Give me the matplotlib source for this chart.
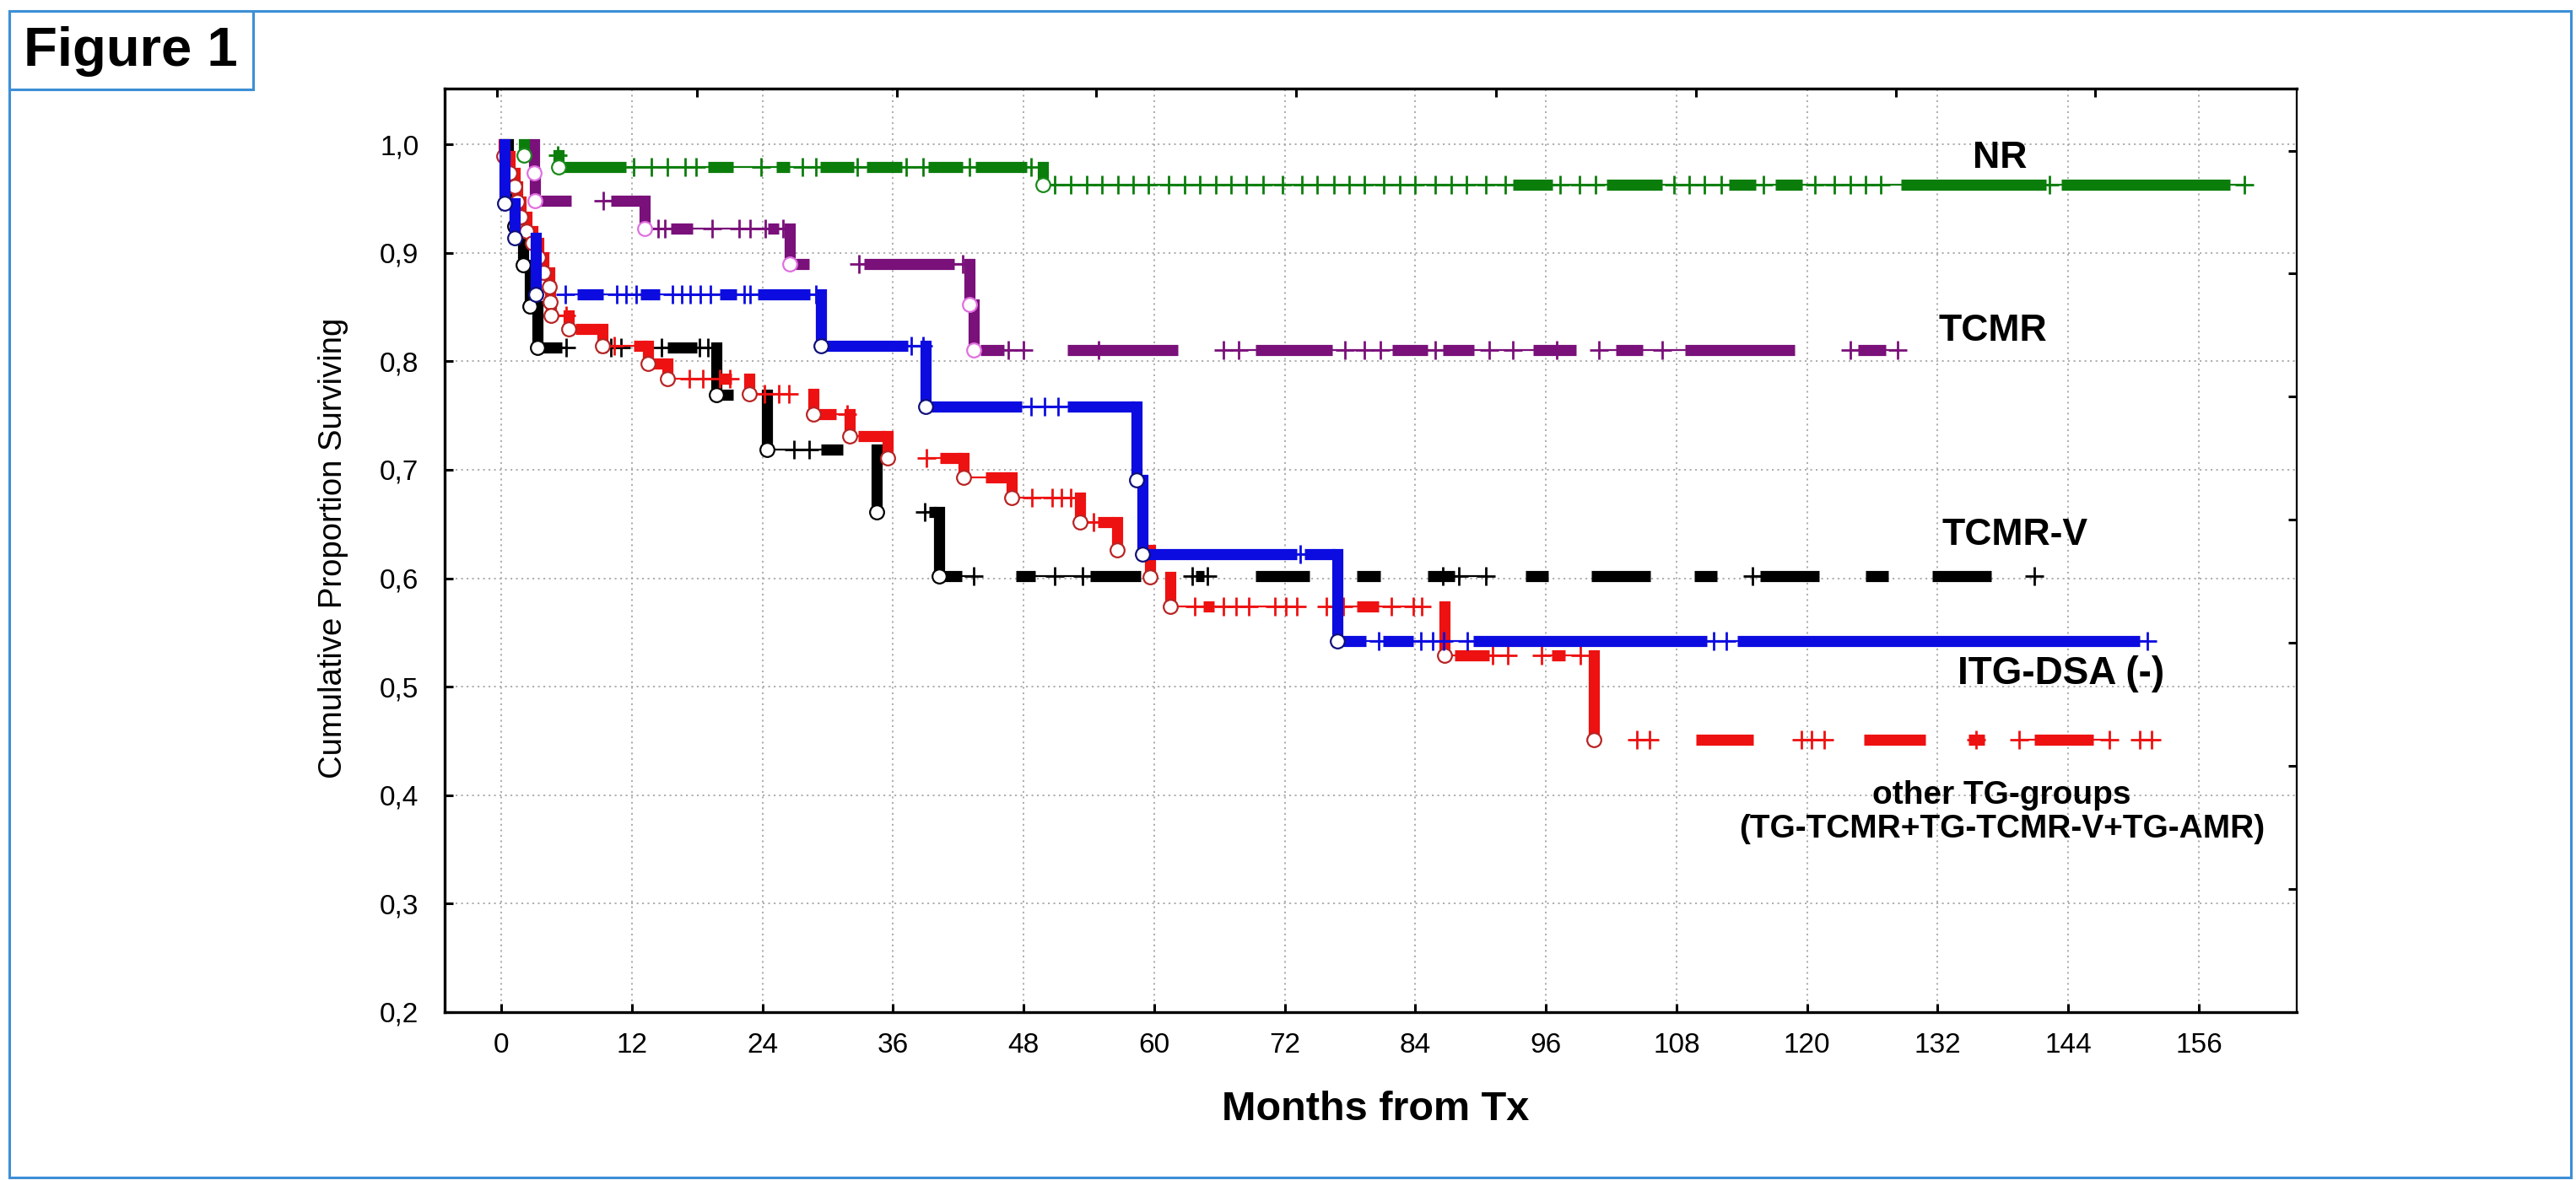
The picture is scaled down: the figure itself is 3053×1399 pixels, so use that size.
import numpy as np
import matplotlib
matplotlib.use("Agg")
import matplotlib.pyplot as plt
from matplotlib.patches import Rectangle

plt.rcParams['font.family'] = ['Liberation Sans', 'DejaVu Sans']

# ---------------------------------------------------------------------------
# DATA
# ---------------------------------------------------------------------------

x_ticks = [0, 12, 24, 36, 48, 60, 72, 84, 96, 108, 120, 132, 144, 156]
y_ticks = [0.2, 0.3, 0.4, 0.5, 0.6, 0.7, 0.8, 0.9, 1.0]
y_tick_labels = ['0,2', '0,3', '0,4', '0,5', '0,6', '0,7', '0,8', '0,9', '1,0']

# NR (green)
nr_event_t = [2.1, 5.3, 49.8]
nr_event_s = [0.990, 0.979, 0.963]
nr_censor_t = [5.2, 12.2, 13.8, 15.3, 16.9, 17.9, 23.9, 27.7, 28.9, 32.7, 37.2, 38.8,
               43.0, 48.7, 50.9, 52.3, 53.8, 55.2, 56.7, 58.1, 59.5, 61.3, 62.8, 64.2,
               65.7, 67.1, 68.5, 70.0, 71.8, 73.6, 75.0, 76.5, 77.9, 79.3, 81.1, 82.6,
               84.0, 85.8, 87.3, 88.7, 90.5, 92.3, 97.3, 99.1, 100.6, 107.8, 109.2,
               110.6, 112.1, 116.0, 120.7, 122.5, 124.0, 125.4, 126.8, 142.3, 160.2]
nr_blocks = [(5.4, 11.5), (19.0, 21.3), (25.3, 26.5), (29.3, 32.4), (33.6, 36.8),
             (39.2, 42.4), (43.6, 48.3), (93.0, 96.6), (101.6, 106.7), (112.8, 115.3),
             (117.1, 119.6), (128.6, 142.0), (143.4, 158.9)]

# TCMR (purple)
tcmr_event_t = [3.0, 3.1, 13.2, 26.5, 43.0, 43.4]
tcmr_event_s = [0.974, 0.948, 0.922, 0.890, 0.852, 0.810]
tcmr_censor_t = [9.4, 14.4, 15.0, 19.4, 21.9, 22.9, 24.3, 25.9, 32.9, 42.4, 46.6, 48.0,
                 54.9, 66.4, 67.8, 77.5, 79.3, 80.8, 85.8, 90.8, 93.0, 97.0, 100.9,
                 106.7, 124.0, 128.3]
tcmr_blocks = [(3.1, 6.4), (10.1, 12.8), (15.6, 17.6), (24.5, 25.5), (26.5, 28.3),
               (33.3, 41.6), (44.0, 46.2), (52.0, 62.2), (69.3, 76.4), (81.9, 85.1),
               (86.5, 89.4), (94.8, 98.8), (102.4, 104.9), (108.8, 118.9), (124.7, 127.2)]

# ITG-DSA (-) (blue)
itg_event_t = [0.3, 1.2, 3.2, 29.4, 39.0, 58.4, 58.9, 76.8]
itg_event_s = [0.946, 0.914, 0.862, 0.814, 0.758, 0.691, 0.622, 0.542]
itg_censor_t = [5.9, 10.6, 11.5, 12.4, 15.7, 16.6, 17.4, 18.3, 19.2, 22.3, 22.9, 28.9,
                37.7, 38.8, 48.7, 49.9, 51.2, 73.4, 80.6, 84.5, 85.6, 86.6, 88.8,
                111.4, 112.6, 151.3]
itg_blocks = [(7.0, 9.4), (12.8, 14.6), (20.1, 21.6), (23.6, 28.4), (29.4, 37.4),
              (39.5, 47.8), (52.0, 58.2), (58.9, 73.1), (73.8, 76.6), (77.0, 79.5),
              (81.0, 83.8), (89.3, 110.8), (113.6, 150.6)]

# TCMR-V (black)
tcmrv_event_t = [0.6, 1.2, 2.0, 2.6, 3.3, 19.8, 24.4, 34.5, 40.2]
tcmrv_event_s = [0.962, 0.925, 0.889, 0.851, 0.813, 0.769, 0.719, 0.661, 0.602]
tcmrv_censor_t = [6.0, 10.1, 11.0, 14.7, 18.2, 19.0, 26.9, 28.3, 38.9, 43.4, 50.9, 53.4,
                  63.5, 64.9, 86.5, 88.0, 90.5, 115.0, 140.9]
tcmrv_blocks = [(3.5, 5.6), (8.9, 9.7), (15.3, 18.0), (19.8, 21.3), (29.4, 31.4),
                (39.3, 40.0), (40.5, 42.3), (47.3, 49.1), (54.1, 58.8), (63.8, 64.6),
                (69.3, 74.3), (78.6, 80.8), (85.1, 87.6), (94.1, 96.2), (100.2, 105.6),
                (109.6, 111.7), (115.7, 121.1), (125.4, 127.5), (131.5, 136.9)]

# other TG-groups (red)
tg_event_t = [0.2, 0.8, 1.2, 1.5, 1.8, 2.3, 2.9, 3.4, 3.9, 4.4, 4.5, 4.6, 6.2, 9.3,
              13.5, 15.3, 22.8, 28.7, 32.0, 35.5, 42.5, 46.9, 53.2, 56.6, 59.6, 61.5,
              86.7, 100.4]
tg_event_s = [0.989, 0.974, 0.961, 0.947, 0.933, 0.920, 0.909, 0.896, 0.882, 0.869,
              0.855, 0.842, 0.830, 0.814, 0.798, 0.784, 0.770, 0.751, 0.731, 0.711,
              0.693, 0.674, 0.652, 0.626, 0.601, 0.574, 0.529, 0.451]
tg_censor_t = [6.0, 10.4, 17.3, 18.5, 20.1, 21.0, 24.2, 25.5, 26.4, 31.8, 39.1, 48.8,
               50.6, 51.5, 52.3, 54.4, 63.7, 66.4, 67.5, 68.7, 71.1, 72.1, 73.1, 75.8,
               76.7, 77.4, 81.8, 83.8, 84.6, 91.1, 92.5, 95.6, 99.2, 104.4, 105.5,
               119.5, 120.4, 121.6, 135.5, 139.5, 147.8, 150.6, 151.7]
tg_blocks = [(6.8, 8.9), (12.2, 13.4), (13.7, 15.0), (20.0, 21.2), (29.1, 30.8),
             (32.8, 35.3), (40.3, 42.3), (44.5, 46.8), (54.8, 56.2), (64.5, 65.5),
             (78.6, 80.6), (87.6, 90.8), (96.5, 97.8), (109.8, 115.1), (125.2, 130.9),
             (134.8, 136.3), (140.9, 146.3)]

# ---------------------------------------------------------------------------
# HELPERS
# ---------------------------------------------------------------------------

W, H = 3053, 1399
THICK = 9.5
THIN = 1.6


def px(x, y):
    # pixel position in the picture -> figure fraction
    return x / W, 1 - y / H


def level_at(event_t, event_s, t):
    # Kaplan-Meier step value at time t
    s = np.concatenate([[1.0], event_s])
    return s[np.searchsorted(event_t, t, side='right')]


def draw_curve(ax, event_t, event_s, censor_t, blocks, color, ring, z):
    event_t = np.asarray(event_t)
    event_s = np.asarray(event_s)
    censor_t = np.asarray(censor_t)
    prev = np.concatenate([[1.0], event_s[:-1]])

    # drops
    ax.vlines(event_t, event_s, prev, colors=color, lw=THICK,
              capstyle='projecting', zorder=z)

    # dense censoring shows as a solid bar
    for t0, t1 in blocks:
        lev = level_at(event_t, event_s, (t0 + t1) / 2)
        ax.hlines(lev, t0, t1, colors=color, lw=THICK, capstyle='butt', zorder=z)

    # thin line where marks sit close together
    marks = [(t, t, s) for t, s in zip(event_t, event_s)]
    marks += [(t, t, level_at(event_t, event_s, t)) for t in censor_t]
    marks += [(t0, t1, level_at(event_t, event_s, (t0 + t1) / 2)) for t0, t1 in blocks]
    marks.sort()
    for a, b in zip(marks[:-1], marks[1:]):
        if abs(a[2] - b[2]) < 1e-9 and 0 < b[0] - a[1] < 2.6:
            ax.plot([a[1], b[0]], [a[2], a[2]], color=color, lw=THIN, zorder=z)

    # censored
    ax.plot(censor_t, level_at(event_t, event_s, censor_t), ls='none', marker='+',
            ms=16, mew=2.0, color=color, zorder=z + 0.2)
    # events
    ax.plot(event_t, event_s, ls='none', marker='o', ms=12, mew=1.6,
            mfc='white', mec=ring, zorder=z + 0.4)


# ---------------------------------------------------------------------------
# PLOT
# ---------------------------------------------------------------------------

fig = plt.figure(figsize=(W / 100, H / 100), dpi=100)
fig.patch.set_facecolor('white')

ax = fig.add_axes([527 / W, 1 - 1200 / H, (2722 - 527) / W, (1200 - 105) / H])
ax.set_xlim(-5.2, 165.0)
ax.set_ylim(0.2, 1.0514)

ax.set_xticks(x_ticks)
ax.set_xticklabels([str(v) for v in x_ticks])
ax.set_yticks(y_ticks)
ax.set_yticklabels(y_tick_labels)
ax.tick_params(axis='both', direction='in', length=7, width=2.2, labelsize=24,
               top=False, right=False)
ax.tick_params(axis='x', pad=17)
ax.tick_params(axis='y', pad=22)
for name, sp in ax.spines.items():
    sp.set_linewidth(2.4 if name in ('left', 'bottom', 'top') else 1.6)

ax.grid(True, ls=(0, (1.2, 2.4)), color='#a8a8a8', lw=1.3)
ax.set_axisbelow(True)

# extra tick scales on top and right (as in the original export)
top = ax.secondary_xaxis('top', functions=(lambda m: (m + 0.39) / 18.36,
                                           lambda u: u * 18.36 - 0.39))
top.set_xticks(range(0, 9))
top.set_xticklabels([])
top.tick_params(direction='in', length=7, width=2.2)
right = ax.secondary_yaxis('right', functions=(lambda v: (v - 0.2) / 0.11346,
                                               lambda u: u * 0.11346 + 0.2))
right.set_yticks(range(1, 8))
right.set_yticklabels([])
right.tick_params(direction='in', length=7, width=2.2)

draw_curve(ax, tcmrv_event_t, tcmrv_event_s, tcmrv_censor_t, tcmrv_blocks,
           '#000000', '#000000', 3)
draw_curve(ax, tg_event_t, tg_event_s, tg_censor_t, tg_blocks,
           '#ee1111', '#b82424', 4)
draw_curve(ax, itg_event_t, itg_event_s, itg_censor_t, itg_blocks,
           '#0c0ce0', '#10107a', 5)
draw_curve(ax, tcmr_event_t, tcmr_event_s, tcmr_censor_t, tcmr_blocks,
           '#7a107a', '#e070e0', 6)
draw_curve(ax, nr_event_t, nr_event_s, nr_censor_t, nr_blocks,
           '#0b7d0b', '#1a8a1a', 7)

# group labels
ax.text(137.7, 0.987, 'NR', ha='center', va='center', fontsize=32, fontweight='bold')
ax.text(137.1, 0.828, 'TCMR', ha='center', va='center', fontsize=32, fontweight='bold')
ax.text(139.1, 0.640, 'TCMR-V', ha='center', va='center', fontsize=32, fontweight='bold')
ax.text(143.3, 0.512, 'ITG-DSA (-)', ha='center', va='center', fontsize=33,
        fontweight='bold')
ax.text(137.9, 0.384, 'other TG-groups\n(TG-TCMR+TG-TCMR-V+TG-AMR)', ha='center',
        va='center', fontsize=28, fontweight='bold', linespacing=1.15)

# axis titles
fig.text(*px(1630, 1315), 'Months from Tx', ha='center', va='center', fontsize=35,
         fontweight='bold')
fig.text(*px(395, 650), 'Cumulative Proportion Surviving', ha='center', va='center',
         rotation=90, fontsize=27.5)

# outer frame and "Figure 1" box
frame_col = '#3d8fd6'
x0, y0 = px(11, 1396)
x1, y1 = px(3047, 13)
fig.patches.append(Rectangle((x0, y0), x1 - x0, y1 - y0, transform=fig.transFigure,
                             fill=False, ec=frame_col, lw=2.2))
bx0, by0 = px(11, 106)
bx1, by1 = px(300, 13)
fig.patches.append(Rectangle((bx0, by0), bx1 - bx0, by1 - by0, transform=fig.transFigure,
                             fill=False, ec=frame_col, lw=2.2))
fig.text(*px(28, 78), 'Figure 1', ha='left', va='baseline', fontsize=47,
         fontweight='bold')

fig.savefig('out.png', dpi=100)
